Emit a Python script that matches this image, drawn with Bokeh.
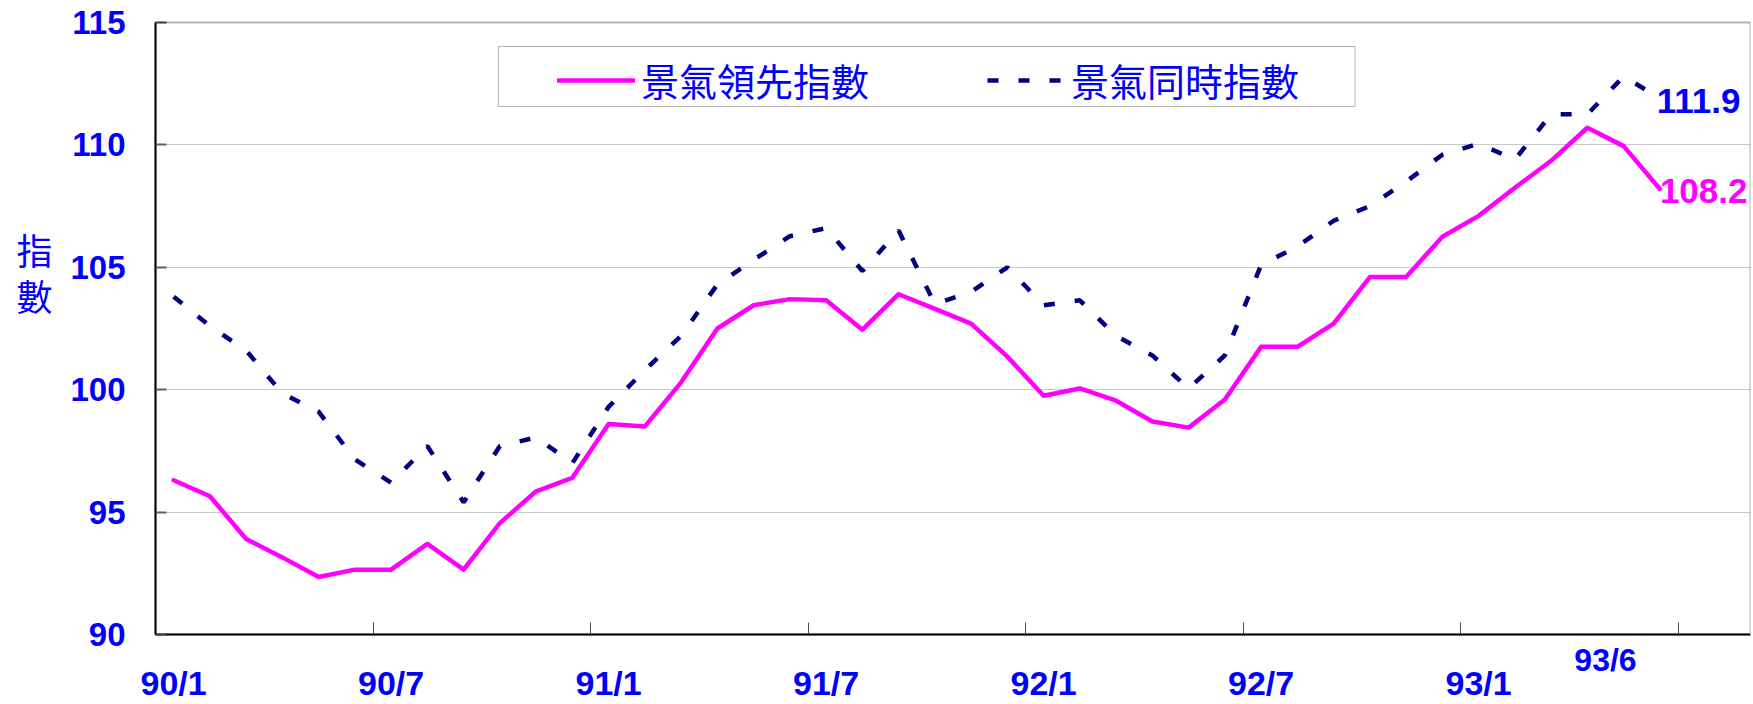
from bokeh.plotting import figure
from bokeh.models import (Range1d, FixedTicker, ColumnDataSource, Legend, LegendItem, Label,
                          BoxAnnotation, LinearAxis, Grid)
from bokeh.embed import file_html
from bokeh.resources import INLINE

# ---------------- data ----------------
years = [90, 91, 92, 93]
months = [f"{y}/{m}" for y in years for m in range(1, 13)][:42]   # 90/1 .. 93/6

leading = [96.3, 95.65, 93.9, 93.15, 92.35, 92.65, 92.65, 93.7, 92.65, 94.55,
           95.85, 96.4, 98.6, 98.5, 100.3, 102.5, 103.45, 103.7, 103.65, 102.45,
           103.9, 103.3, 102.7, 101.35, 99.75, 100.05, 99.55, 98.7, 98.45, 99.6,
           101.75, 101.75, 102.7, 104.6, 104.6, 106.25, 107.1, 108.25, 109.35, 110.7,
           109.95, 108.2]

coincident = [103.8, 102.6, 101.6, 99.85, 99.1, 97.15, 96.2, 97.7, 95.4, 97.7,
              98.05, 97.0, 99.3, 100.8, 102.2, 104.3, 105.3, 106.27, 106.6, 104.85,
              106.5, 103.5, 104.0, 105.0, 103.45, 103.65, 102.2, 101.4, 100.05, 101.4,
              105.1, 105.85, 106.9, 107.5, 108.5, 109.6, 110.05, 109.4, 111.25, 111.25,
              112.8, 111.9]

series_names = ["景氣領先指數", "景氣同時指數"]
x_tick_labels = ["90/1", "90/7", "91/1", "91/7", "92/1", "92/7", "93/1"]
latest_label = "93/6"
y_ticks = [90, 95, 100, 105, 110, 115]
y_title = ["指", "數"]

n_slots = 44            # category slots on the axis (90/1 .. 93/8)
y_lo, y_hi = 90, 115    # value range of the plot box

BLUE = "#0000FF"
MAGENTA = "#FF00FF"
NAVY = "#000080"
NUM_FONT = "Liberation Sans"
CJK_FONT = "Noto Sans CJK TC"

# layout (pixels). The frame covers the whole canvas (except 3px on the right)
# so that the axis texts, drawn around the plot box, are not clipped.
W, H = 1753, 704
BOX_LEFT, BOX_RIGHT = 155, 1750
BOX_TOP, BOX_BOTTOM = 22, 634
RIGHT = W - BOX_RIGHT
px_per_x = (BOX_RIGHT - BOX_LEFT) / n_slots
px_per_y = (BOX_BOTTOM - BOX_TOP) / (y_hi - y_lo)
x_start = -BOX_LEFT / px_per_x
y_start = y_lo - (H - BOX_BOTTOM) / px_per_y
y_end = y_hi + BOX_TOP / px_per_y

xs = [i + 0.5 for i in range(len(months))]
src = ColumnDataSource(dict(x=xs, lead=leading, coin=coincident))

p = figure(width=W, height=H, x_range=Range1d(x_start, n_slots), y_range=Range1d(y_start, y_end),
           output_backend="svg", toolbar_location=None,
           min_border_left=0, min_border_right=RIGHT, min_border_top=0, min_border_bottom=0)
p.background_fill_color = "white"
p.border_fill_color = "white"
p.outline_line_color = None

# ---- grid (only inside the plot box) ----
p.xgrid.visible = False
grid_ticks = y_ticks[1:-1]
if "cross_bounds" in Grid.properties():
    p.ygrid.ticker = FixedTicker(ticks=grid_ticks)
    p.ygrid.cross_bounds = (0, n_slots)
    p.ygrid.grid_line_color = "#C8C8C8"
    p.ygrid.grid_line_width = 1
else:
    p.ygrid.visible = False
    p.segment(x0=[0] * len(grid_ticks), x1=[n_slots] * len(grid_ticks),
              y0=grid_ticks, y1=grid_ticks, line_color="#C8C8C8", line_width=1)

# ---- main y axis, drawn at x = 0 ----
yax = p.yaxis[0]
yax.fixed_location = 0
yax.ticker = FixedTicker(ticks=y_ticks)
yax.bounds = (y_lo, y_hi)
yax.axis_line_color = "black"
yax.axis_line_width = 2
yax.major_tick_in = 11
yax.major_tick_out = 0
yax.major_tick_line_color = "#606060"
yax.major_tick_line_width = 2
yax.minor_tick_line_color = None
yax.major_label_text_font = NUM_FONT
yax.major_label_text_font_style = "bold"
yax.major_label_text_font_size = "33px"
yax.major_label_text_color = BLUE
yax.major_label_standoff = 30

# stacked y title (second left axis, labels only)
title_pos = [105.75, 103.85]
ax_title = LinearAxis(fixed_location=0, ticker=FixedTicker(ticks=title_pos),
                      major_label_overrides={pos: t for pos, t in zip(title_pos, y_title)},
                      axis_line_color=None, major_tick_line_color=None,
                      minor_tick_line_color=None, major_tick_in=0, major_tick_out=0,
                      major_label_standoff=103,
                      major_label_text_font=CJK_FONT, major_label_text_font_size="36px",
                      major_label_text_color=BLUE)
p.add_layout(ax_title, "left")

# ---- x axis drawn at y = 90: labels at category centres, tick marks at 6-month boundaries ----
label_pos = [months.index(l) + 0.5 for l in x_tick_labels]
boundaries = list(range(6, len(months) + 1, 6))
xax = p.xaxis[0]
xax.fixed_location = y_lo
xax.bounds = (0, n_slots)
xax.ticker = FixedTicker(ticks=label_pos, minor_ticks=boundaries)
xax.major_label_overrides = {pos: lab for pos, lab in zip(label_pos, x_tick_labels)}
xax.major_label_text_font = NUM_FONT
xax.major_label_text_font_style = "bold"
xax.major_label_text_font_size = "34px"
xax.major_label_text_color = BLUE
xax.major_label_standoff = 29
xax.axis_line_color = "black"
xax.axis_line_width = 2
xax.major_tick_in = 0
xax.major_tick_out = 0
xax.major_tick_line_color = None
xax.minor_tick_in = 12
xax.minor_tick_out = 0
xax.minor_tick_line_color = "#505050"
xax.minor_tick_line_width = 1

# latest-month label (raised, smaller)
latest_pos = 40
ax_latest = LinearAxis(fixed_location=y_lo, ticker=FixedTicker(ticks=[latest_pos]),
                       major_label_overrides={latest_pos: latest_label},
                       axis_line_color=None, major_tick_line_color=None,
                       minor_tick_line_color=None, major_tick_in=0, major_tick_out=0,
                       major_label_standoff=7,
                       major_label_text_font=NUM_FONT, major_label_text_font_style="bold",
                       major_label_text_font_size="32px", major_label_text_color=BLUE)
p.add_layout(ax_latest, "below")

# plot box (top / right edges; left and bottom come from the axes)
p.add_layout(BoxAnnotation(left=0, right=n_slots, bottom=y_lo, top=y_hi,
                           fill_alpha=0, line_color="black", line_width=2))

# ---- series ----
r1 = p.line("x", "lead", source=src, line_color=MAGENTA, line_width=4.5,
            line_join="round", line_cap="round")
r2 = p.line("x", "coin", source=src, line_color=NAVY, line_width=4.5, line_dash="11 20")

# legend frame + legend
p.add_layout(BoxAnnotation(left=9.46, right=33.09, bottom=111.57, top=114.02,
                           fill_color="white", fill_alpha=1.0,
                           line_color="black", line_width=1))
legend = Legend(items=[LegendItem(label=series_names[0], renderers=[r1]),
                       LegendItem(label=series_names[1], renderers=[r2])],
                orientation="horizontal",
                location=(BOX_LEFT + 402, 527 + (H - BOX_BOTTOM)),
                padding=0, margin=0,
                spacing=118, glyph_width=78, glyph_height=40, label_height=44,
                label_standoff=6, label_text_font=CJK_FONT, label_text_font_size="38px",
                label_text_color=BLUE, border_line_color=None, background_fill_alpha=0)
p.add_layout(legend)

# end-value labels
last_x = xs[-1]
p.add_layout(Label(x=last_x - 0.085, y=coincident[-1] - 0.10, text=f"{coincident[-1]:.1f}",
                   text_align="left", text_baseline="middle", text_font=NUM_FONT,
                   text_font_style="bold", text_font_size="35px", text_color=BLUE))
p.add_layout(Label(x=last_x, y=leading[-1] - 0.10, text=f"{leading[-1]:.1f}",
                   text_align="left", text_baseline="middle", text_font=NUM_FONT,
                   text_font_style="bold", text_font_size="35px", text_color=MAGENTA))

open("out.html", "w").write(file_html(p, INLINE))
